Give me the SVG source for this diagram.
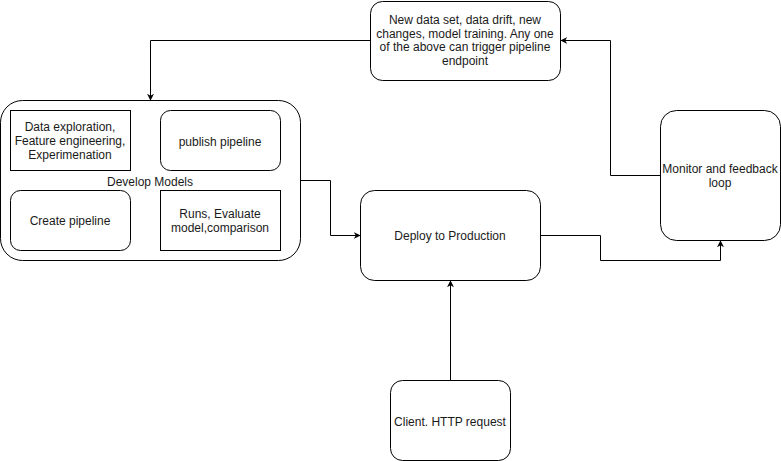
<svg xmlns="http://www.w3.org/2000/svg" width="781" height="461" viewBox="0 0 781 461">
<style>
.box{fill:#fff;stroke:#000;stroke-width:1}
.t{font-family:"Liberation Sans",Arial,sans-serif;font-size:12px;fill:#1a1a1a;text-anchor:middle}
.c{fill:none;stroke:#000;stroke-width:1}
</style>
<defs>
<marker id="arr" viewBox="0 0 10 10" refX="9" refY="5" markerWidth="7" markerHeight="7" markerUnits="userSpaceOnUse" orient="auto">
<path d="M0,0 L10,5 L0,10 L3,5 Z" fill="#000"/>
</marker>
</defs>
<rect width="781" height="461" fill="#fff"/>
<g id="develop-models">
<rect class="box" x="0.5" y="100.5" width="300" height="160" rx="22"/>
<text class="t" x="150" y="186">Develop Models</text>
</g>
<g id="data-exploration">
<rect class="box" x="10.5" y="110.5" width="120" height="60"/>
<text class="t" x="70" y="131">Data exploration,</text>
<text class="t" x="70" y="145">Feature engineering,</text>
<text class="t" x="70" y="159">Experimenation</text>
</g>
<g id="publish-pipeline">
<rect class="box" x="160.5" y="110.5" width="120" height="60" rx="10"/>
<text class="t" x="220" y="146">publish pipeline</text>
</g>
<g id="create-pipeline">
<rect class="box" x="10.5" y="190.5" width="120" height="60" rx="10"/>
<text class="t" x="70" y="225">Create pipeline</text>
</g>
<g id="runs-evaluate">
<rect class="box" x="160.5" y="190.5" width="120" height="60"/>
<text class="t" x="220" y="218">Runs, Evaluate</text>
<text class="t" x="220" y="232">model,comparison</text>
</g>
<g id="trigger">
<rect class="box" x="370.5" y="1.5" width="190" height="79" rx="12"/>
<text class="t" x="465" y="23.5">New data set, data drift, new</text>
<text class="t" x="465" y="37.5">changes, model training. Any one</text>
<text class="t" x="465" y="51">of the above can trigger pipeline</text>
<text class="t" x="465" y="65">endpoint</text>
</g>
<g id="deploy">
<rect class="box" x="360.5" y="190.5" width="180" height="90" rx="14"/>
<text class="t" x="450" y="240">Deploy to Production</text>
</g>
<g id="monitor">
<rect class="box" x="660.5" y="110.5" width="120" height="130" rx="16"/>
<text class="t" x="720" y="173">Monitor and feedback</text>
<text class="t" x="720" y="187">loop</text>
</g>
<g id="client">
<rect class="box" x="390.5" y="380.5" width="120" height="80" rx="12"/>
<text class="t" x="450" y="426">Client. HTTP request</text>
</g>
<g id="connectors">
<path class="c" d="M370.5,40.5 H150.5 V100" marker-end="url(#arr)"/>
<path class="c" d="M300.5,180.5 H330.5 V235.5 H360" marker-end="url(#arr)"/>
<path class="c" d="M540.5,235.5 H600.5 V260.5 H720.5 V241" marker-end="url(#arr)"/>
<path class="c" d="M660.5,175.5 H610.5 V40.5 H561" marker-end="url(#arr)"/>
<path class="c" d="M450.5,380.5 V281" marker-end="url(#arr)"/>
</g>
</svg>
